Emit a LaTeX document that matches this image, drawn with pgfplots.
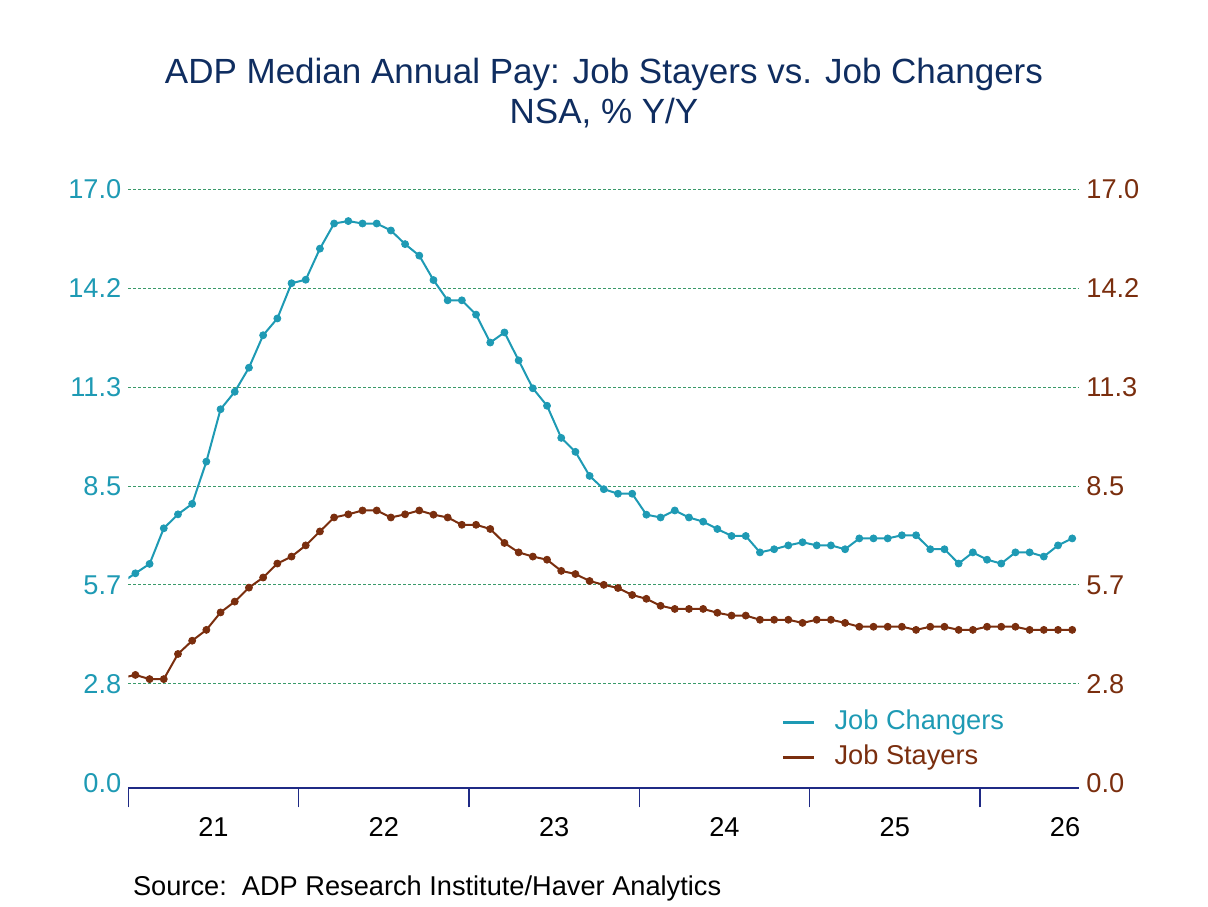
\documentclass[border=0pt]{standalone}
\usepackage{pgfplots}
\pgfplotsset{compat=1.18}
\usepackage{pgfplotstable}
\usepackage{fontspec}
\setmainfont{Liberation Sans}
\definecolor{jc}{HTML}{1E9AB4}
\definecolor{js}{HTML}{7A2E0E}
\definecolor{gridgreen}{HTML}{3A9A6A}
\definecolor{axisnavy}{HTML}{1F2A85}
\definecolor{titlenavy}{HTML}{0F2D60}
\pgfplotstableread{
x c s
-0.5 5.73 3.00
0.5 6.00 3.09
1.5 6.27 2.97
2.5 7.29 2.97
3.5 7.69 3.69
4.5 7.99 4.07
5.5 9.20 4.38
6.5 10.70 4.88
7.5 11.20 5.19
8.5 11.89 5.59
9.5 12.82 5.88
10.5 13.30 6.28
11.5 14.31 6.48
12.5 14.41 6.80
13.5 15.30 7.20
14.5 16.02 7.60
15.5 16.09 7.69
16.5 16.02 7.80
17.5 16.02 7.80
18.5 15.82 7.60
19.5 15.43 7.69
20.5 15.10 7.80
21.5 14.40 7.68
22.5 13.82 7.60
23.5 13.82 7.39
24.5 13.41 7.39
25.5 12.61 7.27
26.5 12.90 6.87
27.5 12.10 6.60
28.5 11.30 6.48
29.5 10.80 6.39
30.5 9.88 6.07
31.5 9.48 5.98
32.5 8.79 5.78
33.5 8.41 5.67
34.5 8.28 5.58
35.5 8.28 5.38
36.5 7.68 5.27
37.5 7.60 5.07
38.5 7.80 4.98
39.5 7.60 4.98
40.5 7.48 4.98
41.5 7.27 4.87
42.5 7.07 4.79
43.5 7.07 4.79
44.5 6.60 4.67
45.5 6.69 4.67
46.5 6.80 4.67
47.5 6.89 4.58
48.5 6.80 4.67
49.5 6.80 4.67
50.5 6.69 4.58
51.5 7.00 4.47
52.5 7.00 4.47
53.5 7.00 4.47
54.5 7.09 4.47
55.5 7.09 4.38
56.5 6.69 4.47
57.5 6.69 4.47
58.5 6.28 4.38
59.5 6.60 4.38
60.5 6.39 4.47
61.5 6.28 4.47
62.5 6.60 4.47
63.5 6.60 4.38
64.5 6.48 4.38
65.5 6.80 4.38
66.5 7.00 4.38
}\data
\begin{document}
\begin{tikzpicture}
\path[use as bounding box] (-64.15pt,-58.85pt) rectangle (539.85pt,394.15pt);
\begin{axis}[
 scale only axis, width=475.5pt, height=299.5pt,
 xmin=0, xmax=67, ymin=-0.158, ymax=17,
 axis x line*=bottom, axis y line*=left,
 y axis line style={draw=none},
 x axis line style={draw=axisnavy, line width=1pt, -},
 xtick={0,12,24,36,48,60}, xticklabels={},
 xtick style={draw=axisnavy, line width=0.7pt},
 xtick align=outside,
 major tick length=9.5pt,
 extra x ticks={6,18,30,42,54,66},
 extra x tick labels={21,22,23,24,25,26},
 extra x tick style={major tick length=0pt, tick style={draw=none}},
 xticklabel style={anchor=base, yshift=-24.2pt, text=black, font=\fontsize{13.6}{16}\selectfont},
 ytick={0,2.8333,5.6667,8.5,11.3333,14.1667,17},
 yticklabels={0.0,2.8,5.7,8.5,11.3,14.2,17.0},
 ytick style={draw=none},
 yticklabel style={text=jc, font=\fontsize{13.6}{16}\selectfont},
 extra y ticks={2.8333,5.6667,8.5,11.3333,14.1667,17},
 extra y tick labels={},
 extra y tick style={major tick length=0pt, tick style={draw=none}, grid=major},
 major grid style={gridgreen, dash pattern=on 1.5pt off 1pt, line width=0.5pt},
 /pgf/number format/assume math mode=true,
 legend style={at={(axis cs:46.0,2.12)}, anchor=north west, draw=none, fill=none,
   inner sep=0pt, row sep=4.5pt, column sep=9.5pt,
   nodes={inner sep=0pt, text height=10pt, text depth=3pt, font=\fontsize{13.6}{16}\selectfont}},
 legend cell align=left,
 legend image code/.code={\draw[#1, mark=none, line width=1.5pt] (0pt,0pt) -- (15.5pt,0pt);},
]
\addplot[jc, line width=1pt, mark=none] table[x=x, y=c] {\data};
\addlegendentry{\textcolor{jc}{Job Changers}}
\addplot[js, line width=1pt, mark=none] table[x=x, y=s] {\data};
\addlegendentry{\textcolor{js}{Job Stayers}}
\addplot[forget plot, only marks, restrict x to domain=0:67, mark=*, mark size=1.75pt, mark options={solid, fill=jc, draw=jc}] table[x=x, y=c] {\data};
\addplot[forget plot, only marks, restrict x to domain=0:67, mark=*, mark size=1.75pt, mark options={solid, fill=js, draw=js}] table[x=x, y=s] {\data};
\end{axis}
\begin{axis}[
 scale only axis, width=475.5pt, height=299.5pt,
 xmin=0, xmax=67, ymin=-0.158, ymax=17,
 hide x axis,
 axis y line*=right,
 y axis line style={draw=none},
 ytick={0,2.8333,5.6667,8.5,11.3333,14.1667,17},
 yticklabels={0.0,2.8,5.7,8.5,11.3,14.2,17.0},
 ytick style={draw=none},
 yticklabel style={text=js, font=\fontsize{13.6}{16}\selectfont},
]
\addplot[draw=none] coordinates {(0,0)};
\end{axis}
\node[anchor=base, inner sep=0pt, font=\fontsize{17.5}{21}\selectfont, text=titlenavy] at (237.85pt,352.5pt) {ADP Median Annual Pay: Job Stayers vs. Job Changers};
\node[anchor=base, inner sep=0pt, font=\fontsize{17.5}{21}\selectfont, text=titlenavy] at (237.85pt,332.15pt) {NSA, \% Y/Y};
\node[anchor=base west, inner sep=0pt, font=\fontsize{13.6}{16}\selectfont, text=black] at (2.2pt,-53.35pt) {Source:\ \ ADP Research Institute/Haver Analytics};
\end{tikzpicture}
\end{document}
